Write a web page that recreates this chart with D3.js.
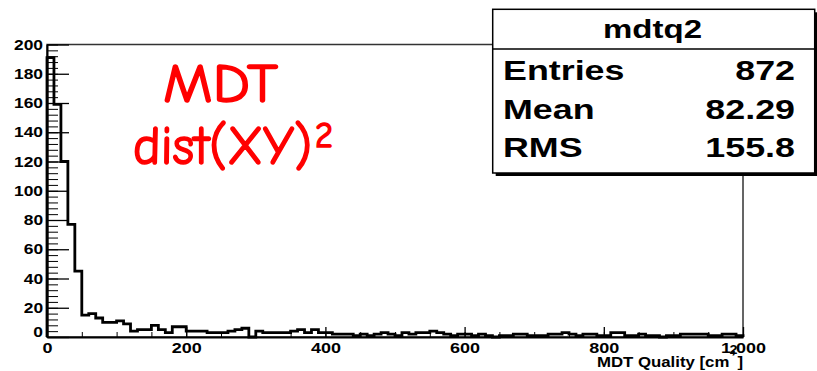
<!DOCTYPE html>
<html>
<head>
<meta charset="utf-8">
<script src="https://cdn.jsdelivr.net/npm/d3@7"></script>
<style>
  body { margin: 0; background: #fff; }
  svg { display: block; }
  .lbl { font-family: "Liberation Sans", Arial, Helvetica, sans-serif; font-weight: bold; fill: #000; }
</style>
</head>
<body>
<script>
// ---------------- data ----------------
var xMin = 0, xMax = 1000, nBins = 100;
// bin contents (bin width 10)
var counts = [
  191, 159, 120, 77, 45, 15, 16, 13, 10, 10,
  11, 9, 4, 5, 5, 8, 5, 3, 7, 7,
  4, 4, 4, 3, 3, 3, 4, 5, 6, 0,
  4, 3, 3, 3, 3, 4, 5, 3, 5, 3,
  3, 2, 2, 2, 1, 2, 1, 2, 3, 2,
  1, 3, 2, 3, 3, 4, 3, 2, 1, 2,
  2, 1, 2, 1, 0, 1, 1, 2, 2, 1,
  1, 1, 2, 2, 3, 2, 1, 2, 2, 1,
  1, 3, 3, 1, 1, 2, 1, 1, 0, 1,
  1, 2, 2, 2, 2, 1, 1, 2, 2, 1
];
var yMajor = [0, 20, 40, 60, 80, 100, 120, 140, 160, 180, 200];
var xMajor = [0, 200, 400, 600, 800, 1000];
var statTitle = "mdtq2";
var statNames = ["Entries", "Mean", "RMS"];
var statValues = ["872", "82.29", "155.8"];
var xTitle = "MDT Quality [cm", xTitleSup = "2";
var note1 = "MDT", note2 = "dist(XY)", note2Sup = "2";

// ---------------- setup ----------------
var W = 817, H = 371;
var frame = { left: 47, right: 743, top: 44.5, bottom: 337 };
var sx = 1.2;   // the picture is stretched sideways

var svg = d3.select("body").append("svg")
    .attr("width", W).attr("height", H);

var x = d3.scaleLinear().domain([xMin, xMax]).range([frame.left, frame.right]);
var y = d3.scaleLinear().domain([0, 200]).range([frame.bottom, frame.top]);

// frame
svg.append("rect")
    .attr("x", frame.left).attr("y", frame.top)
    .attr("width", frame.right - frame.left).attr("height", frame.bottom - frame.top)
    .attr("fill", "none").attr("stroke", "#333").attr("stroke-width", 1.5);

// ---------------- histogram ----------------
var bw = (xMax - xMin) / nBins;
var pts = [[xMin, 0]];
counts.forEach(function(c, i) {
  pts.push([xMin + i * bw, c]);
  pts.push([xMin + (i + 1) * bw, c]);
});
pts.push([xMax, 0]);

svg.append("path")
    .datum(pts)
    .attr("fill", "none")
    .attr("stroke", "#000")
    .attr("stroke-width", 2.8)
    .attr("stroke-linejoin", "miter")
    .attr("d", d3.line().x(function(d) { return x(d[0]); }).y(function(d) { return y(d[1]); }));

// ---------------- axes ----------------
var yMinor = d3.range(0, 201, 4);
var xMinor = d3.range(0, 1001, 50);

svg.append("g")
    .attr("transform", "translate(" + frame.left + ",0)")
    .call(d3.axisLeft(y).tickValues(yMinor).tickSizeInner(-11).tickSizeOuter(0).tickFormat(""))
    .call(function(g) { g.select(".domain").remove(); });

var yAxis = svg.append("g")
    .attr("transform", "translate(" + frame.left + ",0)")
    .call(d3.axisLeft(y).tickValues(yMajor).tickSizeInner(-22).tickSizeOuter(0).tickPadding(3.3));
yAxis.select(".domain").attr("stroke-width", 2);
yAxis.selectAll("line").attr("stroke-width", 1.3);
yAxis.selectAll("text")
    .attr("class", "lbl")
    .attr("font-size", 14.5)
    .attr("font-family", null)
    .attr("transform", function(d) { return (d === 0 ? "translate(0,-5) " : "") + "scale(" + sx + ",1)"; });

svg.append("g")
    .attr("transform", "translate(0," + frame.bottom + ")")
    .call(d3.axisBottom(x).tickValues(xMinor).tickSizeInner(-5).tickSizeOuter(0).tickFormat(""))
    .call(function(g) { g.select(".domain").remove(); });

var xAxis = svg.append("g")
    .attr("transform", "translate(0," + frame.bottom + ")")
    .call(d3.axisBottom(x).tickValues(xMajor).tickSizeInner(-10).tickSizeOuter(0).tickPadding(5.5));
xAxis.select(".domain").attr("stroke-width", 2);
xAxis.selectAll("line").attr("stroke-width", 1.3);
xAxis.selectAll("text")
    .attr("class", "lbl")
    .attr("font-size", 15)
    .attr("font-family", null)
    .attr("transform", "scale(" + sx + ",1)");

// axis title
var xt = svg.append("text")
    .attr("class", "lbl")
    .attr("font-size", 14)
    .attr("text-anchor", "end")
    .attr("transform", "translate(" + frame.right + ",367) scale(" + sx + ",1)");
xt.append("tspan").text(xTitle);
xt.append("tspan").attr("font-size", 12).attr("dy", -13).text(xTitleSup);
xt.append("tspan").attr("dy", 13).text("]");

// ---------------- stats box ----------------
var box = { x: 492.7, y: 9.3, w: 322, h: 163.7 };
svg.append("rect")
    .attr("x", box.x + 3).attr("y", box.y + 3)
    .attr("width", box.w).attr("height", box.h)
    .attr("fill", "#000");
svg.append("rect")
    .attr("x", box.x).attr("y", box.y)
    .attr("width", box.w).attr("height", box.h)
    .attr("fill", "#fff").attr("stroke", "#000").attr("stroke-width", 1.5);
svg.append("line")
    .attr("x1", box.x).attr("x2", box.x + box.w)
    .attr("y1", 49).attr("y2", 49)
    .attr("stroke", "#000").attr("stroke-width", 1.5);

svg.append("text")
    .attr("class", "lbl")
    .attr("font-size", 25)
    .attr("text-anchor", "middle")
    .attr("transform", "translate(652.5,38) scale(1.32,1)")
    .text(statTitle);

var rowY = d3.scalePoint().domain(statNames).range([80, 157]);
statNames.forEach(function(n, i) {
  svg.append("text")
      .attr("class", "lbl")
      .attr("font-size", 28)
      .attr("transform", "translate(503," + rowY(n) + ") scale(1.28,1)")
      .text(n);
  svg.append("text")
      .attr("class", "lbl")
      .attr("font-size", 28)
      .attr("text-anchor", "end")
      .attr("transform", "translate(795," + rowY(n) + ") scale(1.28,1)")
      .text(statValues[i]);
});

// ---------------- red note ----------------
var noteFont = '"Comic Sans MS", "Comic Neue", "DejaVu Sans", sans-serif';
function note(txt, xx, yy, size, len) {
  svg.append("text")
      .attr("x", xx).attr("y", yy)
      .attr("font-family", noteFont).attr("font-size", size)
      .attr("fill", "#ff0000")
      .attr("stroke", "#ff0000").attr("stroke-width", 1.6)
      .attr("textLength", len).attr("lengthAdjust", "spacingAndGlyphs")
      .text(txt);
}
note(note1, 163, 101.5, 55, 115);
note(note2, 133, 164, 55, 179);
note(note2Sup, 315, 147, 36, 18);
</script>
</body>
</html>
